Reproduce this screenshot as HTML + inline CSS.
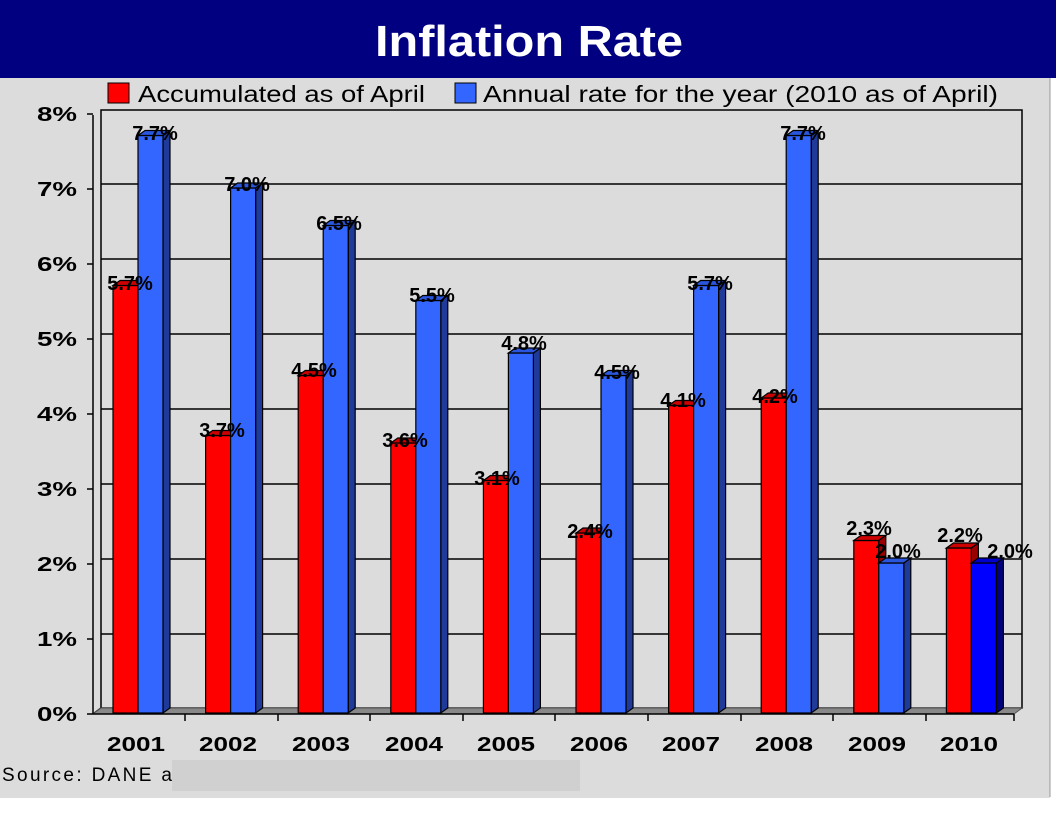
<!DOCTYPE html>
<html><head><meta charset="utf-8"><style>
body{margin:0;background:#fff;}
svg{display:block;font-family:"Liberation Sans",sans-serif;}
.l{font-weight:bold;font-size:20px;text-anchor:middle;fill:#000}
.ax{font-weight:bold;font-size:20px;fill:#000}
</style></head><body>
<svg width="1056" height="816" viewBox="0 0 1056 816">
<rect x="0" y="0" width="1056" height="816" fill="#fff"/>
<rect x="0" y="0" width="1050" height="796" fill="#dcdcdc"/>
<line x1="0" y1="797" x2="1050" y2="797" stroke="#bbb"/>
<line x1="1050" y1="0" x2="1050" y2="797" stroke="#999"/>
<rect x="0" y="0" width="1056" height="78" fill="#000080"/>
<text x="375" y="56" fill="#fff" font-size="44" font-weight="bold" textLength="308" lengthAdjust="spacingAndGlyphs">Inflation Rate</text>
<rect x="108" y="83" width="21" height="20" fill="#ff0000" stroke="#000"/>
<text x="138" y="102" font-size="23" fill="#000" textLength="287" lengthAdjust="spacingAndGlyphs">Accumulated as of April</text>
<rect x="455" y="83" width="21" height="20" fill="#3366ff" stroke="#000"/>
<text x="483" y="102" font-size="23" fill="#000" textLength="515" lengthAdjust="spacingAndGlyphs">Annual rate for the year (2010 as of April)</text>
<g stroke="#000" stroke-width="1.5">
<rect x="101" y="110" width="921" height="598" fill="#dcdcdc"/>
<line x1="101" y1="184" x2="1022" y2="184"/>
<line x1="101" y1="259" x2="1022" y2="259"/>
<line x1="101" y1="334" x2="1022" y2="334"/>
<line x1="101" y1="409" x2="1022" y2="409"/>
<line x1="101" y1="484" x2="1022" y2="484"/>
<line x1="101" y1="559" x2="1022" y2="559"/>
<line x1="101" y1="634" x2="1022" y2="634"/>
<line x1="93" y1="115" x2="93" y2="714"/>
<line x1="93" y1="714" x2="101" y2="708"/>
</g>
<polygon points="93,714 101,708 1022,708 1014,714" fill="#888" stroke="#555"/>
<line x1="93" y1="714" x2="1014" y2="714" stroke="#000" stroke-width="1.5"/>
<g stroke="#000" stroke-width="1.5">
<line x1="87" y1="114" x2="93" y2="114"/><line x1="87" y1="189" x2="93" y2="189"/><line x1="87" y1="264" x2="93" y2="264"/><line x1="87" y1="339" x2="93" y2="339"/><line x1="87" y1="414" x2="93" y2="414"/><line x1="87" y1="489" x2="93" y2="489"/><line x1="87" y1="564" x2="93" y2="564"/><line x1="87" y1="639" x2="93" y2="639"/><line x1="87" y1="714" x2="93" y2="714"/>
<line x1="185" y1="714" x2="185" y2="721"/><line x1="278" y1="714" x2="278" y2="721"/><line x1="370" y1="714" x2="370" y2="721"/><line x1="463" y1="714" x2="463" y2="721"/><line x1="555" y1="714" x2="555" y2="721"/><line x1="648" y1="714" x2="648" y2="721"/><line x1="741" y1="714" x2="741" y2="721"/><line x1="833" y1="714" x2="833" y2="721"/><line x1="926" y1="714" x2="926" y2="721"/><line x1="1014" y1="714" x2="1014" y2="721"/>
</g>
<g class="ax">
<text x="37" y="121" textLength="40" lengthAdjust="spacingAndGlyphs">8%</text><text x="37" y="196" textLength="40" lengthAdjust="spacingAndGlyphs">7%</text><text x="37" y="271" textLength="40" lengthAdjust="spacingAndGlyphs">6%</text><text x="37" y="346" textLength="40" lengthAdjust="spacingAndGlyphs">5%</text><text x="37" y="421" textLength="40" lengthAdjust="spacingAndGlyphs">4%</text><text x="37" y="496" textLength="40" lengthAdjust="spacingAndGlyphs">3%</text><text x="37" y="571" textLength="40" lengthAdjust="spacingAndGlyphs">2%</text><text x="37" y="646" textLength="40" lengthAdjust="spacingAndGlyphs">1%</text><text x="37" y="721" textLength="40" lengthAdjust="spacingAndGlyphs">0%</text>
</g>
<g class="ax">
<text x="107" y="751" textLength="58" lengthAdjust="spacingAndGlyphs">2001</text><text x="199" y="751" textLength="58" lengthAdjust="spacingAndGlyphs">2002</text><text x="292" y="751" textLength="58" lengthAdjust="spacingAndGlyphs">2003</text><text x="385" y="751" textLength="58" lengthAdjust="spacingAndGlyphs">2004</text><text x="477" y="751" textLength="58" lengthAdjust="spacingAndGlyphs">2005</text><text x="570" y="751" textLength="58" lengthAdjust="spacingAndGlyphs">2006</text><text x="662" y="751" textLength="58" lengthAdjust="spacingAndGlyphs">2007</text><text x="755" y="751" textLength="58" lengthAdjust="spacingAndGlyphs">2008</text><text x="848" y="751" textLength="58" lengthAdjust="spacingAndGlyphs">2009</text><text x="940" y="751" textLength="58" lengthAdjust="spacingAndGlyphs">2010</text>
</g>
<g stroke="#000" stroke-width="1.2">
<g fill="#ff0000">
<rect x="113" y="285.5" width="25" height="427.5"/><rect x="205.6" y="435.5" width="25" height="277.5"/><rect x="298.2" y="375.5" width="25" height="337.5"/><rect x="390.8" y="443" width="25" height="270"/><rect x="483.4" y="480.5" width="25" height="232.5"/><rect x="576" y="533" width="25" height="180"/><rect x="668.6" y="405.5" width="25" height="307.5"/><rect x="761.2" y="398" width="25" height="315"/><rect x="853.8" y="540.5" width="25" height="172.5"/><rect x="946.4" y="548" width="25" height="165"/>
</g>
<g fill="#cc0000">
<polygon points="113,285.5 120,280.5 145,280.5 138,285.5"/><polygon points="205.6,435.5 212.6,430.5 237.6,430.5 230.6,435.5"/><polygon points="298.2,375.5 305.2,370.5 330.2,370.5 323.2,375.5"/><polygon points="390.8,443 397.8,438 422.8,438 415.8,443"/><polygon points="483.4,480.5 490.4,475.5 515.4,475.5 508.4,480.5"/><polygon points="576,533 583,528 608,528 601,533"/><polygon points="668.6,405.5 675.6,400.5 700.6,400.5 693.6,405.5"/><polygon points="761.2,398 768.2,393 793.2,393 786.2,398"/><polygon points="853.8,540.5 860.8,535.5 885.8,535.5 878.8,540.5"/><polygon points="946.4,548 953.4,543 978.4,543 971.4,548"/>
<polygon points="878.8,540.5 885.8,535.5 885.8,708 878.8,713" fill="#990000"/><polygon points="971.4,548 978.4,543 978.4,708 971.4,713" fill="#990000"/>
</g>
<g fill="#1f3a99">
<polygon points="163,135.5 170,130.5 170,708 163,713"/><polygon points="255.6,188 262.6,183 262.6,708 255.6,713"/><polygon points="348.2,225.5 355.2,220.5 355.2,708 348.2,713"/><polygon points="440.8,300.5 447.8,295.5 447.8,708 440.8,713"/><polygon points="533.4,353 540.4,348 540.4,708 533.4,713"/><polygon points="626,375.5 633,370.5 633,708 626,713"/><polygon points="718.6,285.5 725.6,280.5 725.6,708 718.6,713"/><polygon points="811.2,135.5 818.2,130.5 818.2,708 811.2,713"/><polygon points="903.8,563 910.8,558 910.8,708 903.8,713"/><polygon points="996.4,563 1003.4,558 1003.4,708 996.4,713" fill="#000080"/>
</g>
<g fill="#3366ff">
<rect x="138" y="135.5" width="25" height="577.5"/><rect x="230.6" y="188" width="25" height="525"/><rect x="323.2" y="225.5" width="25" height="487.5"/><rect x="415.8" y="300.5" width="25" height="412.5"/><rect x="508.4" y="353" width="25" height="360"/><rect x="601" y="375.5" width="25" height="337.5"/><rect x="693.6" y="285.5" width="25" height="427.5"/><rect x="786.2" y="135.5" width="25" height="577.5"/><rect x="878.8" y="563" width="25" height="150"/><rect x="971.4" y="563" width="25" height="150" fill="#0000ff"/>
</g>
<g fill="#2a55dd">
<polygon points="138,135.5 145,130.5 170,130.5 163,135.5"/><polygon points="230.6,188 237.6,183 262.6,183 255.6,188"/><polygon points="323.2,225.5 330.2,220.5 355.2,220.5 348.2,225.5"/><polygon points="415.8,300.5 422.8,295.5 447.8,295.5 440.8,300.5"/><polygon points="508.4,353 515.4,348 540.4,348 533.4,353"/><polygon points="601,375.5 608,370.5 633,370.5 626,375.5"/><polygon points="693.6,285.5 700.6,280.5 725.6,280.5 718.6,285.5"/><polygon points="786.2,135.5 793.2,130.5 818.2,130.5 811.2,135.5"/><polygon points="878.8,563 885.8,558 910.8,558 903.8,563"/><polygon points="971.4,563 978.4,558 1003.4,558 996.4,563" fill="#0000cc"/>
</g>
</g>
<g class="l">
<text x="130" y="290">5.7%</text><text x="222" y="437">3.7%</text><text x="314" y="377">4.5%</text><text x="405" y="447">3.6%</text><text x="497" y="485">3.1%</text><text x="590" y="538">2.4%</text><text x="683" y="407">4.1%</text><text x="775" y="403">4.2%</text><text x="869" y="535">2.3%</text><text x="960" y="542">2.2%</text>
<text x="155" y="140">7.7%</text><text x="247" y="191">7.0%</text><text x="339" y="230">6.5%</text><text x="432" y="302">5.5%</text><text x="524" y="350">4.8%</text><text x="617" y="379">4.5%</text><text x="710" y="290">5.7%</text><text x="803" y="140">7.7%</text><text x="898" y="558">2.0%</text><text x="1010" y="558">2.0%</text>
</g>
<rect x="172" y="760" width="408" height="31" fill="#d0d0d0"/>
<text x="2" y="781" font-size="19" fill="#000" textLength="170" lengthAdjust="spacing">Source:  DANE a</text>
</svg>
</body></html>
